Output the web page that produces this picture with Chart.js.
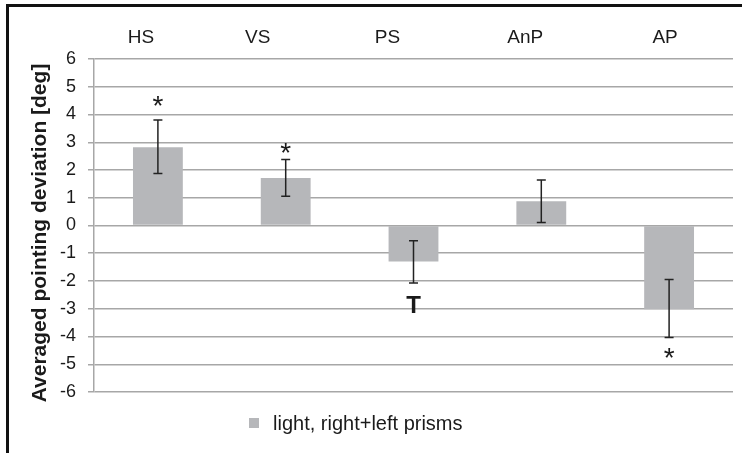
<!DOCTYPE html>
<html>
<head>
<meta charset="utf-8">
<script src="https://cdn.jsdelivr.net/npm/chart.js@4/dist/chart.umd.min.js"></script>
<style>
  html, body { margin: 0; padding: 0; background: #fff; }
  #wrap { width: 742px; height: 453px; position: relative; }
</style>
</head>
<body>
<div id="wrap"><canvas id="c" width="742" height="453"></canvas></div>
<script>
const categories = ['HS', 'VS', 'PS', 'AnP', 'AP'];
const seriesLabel = 'light, right+left prisms';
const yTitle = 'Averaged pointing deviation [deg]';
const values = [2.82, 1.71, -1.30, 0.87, -3.02];
const errLow = [1.87, 1.05, -2.07, 0.11, -4.04];
const errHigh = [3.80, 2.38, -0.55, 1.64, -1.95];
const marks = ['*', '*', 'T', '', '*'];
const markY = [4.5, 2.8, -2.85, null, -4.6];
const yTicks = [-6, -5, -4, -3, -2, -1, 0, 1, 2, 3, 4, 5, 6];

// styling
const FONT = "'Liberation Sans', Arial, sans-serif";
const BAR = '#b6b7ba';
const GRID = '#a7a7a7';
const TEXT = '#1a1a1a';
const catLabelShift = [-17, -28, -26, -16, -4];

const extras = {
  id: 'extras',
  afterDatasetsDraw(chart) {
    const ctx = chart.ctx;
    const x = chart.scales.x, y = chart.scales.y;
    ctx.save();
    // error bars
    ctx.strokeStyle = '#222';
    ctx.lineWidth = 1.5;
    categories.forEach((c, i) => {
      const cx = x.getPixelForValue(i);
      const y1 = y.getPixelForValue(errLow[i]);
      const y2 = y.getPixelForValue(errHigh[i]);
      ctx.beginPath();
      ctx.moveTo(cx, y1); ctx.lineTo(cx, y2);
      ctx.moveTo(cx - 4.5, y1); ctx.lineTo(cx + 4.5, y1);
      ctx.moveTo(cx - 4.5, y2); ctx.lineTo(cx + 4.5, y2);
      ctx.stroke();
    });
    // significance marks
    ctx.fillStyle = TEXT;
    ctx.textAlign = 'center';
    ctx.textBaseline = 'alphabetic';
    categories.forEach((c, i) => {
      if (!marks[i] || markY[i] === null) return;
      ctx.font = (marks[i] === 'T' ? 'bold 24px ' : '28px ') + FONT;
      const m = ctx.measureText(marks[i]);
      const asc = m.actualBoundingBoxAscent, desc = m.actualBoundingBoxDescent;
      const cy = y.getPixelForValue(markY[i]);
      ctx.fillText(marks[i], x.getPixelForValue(i), cy + (asc - desc) / 2);
    });
    ctx.restore();
  },
  afterDraw(chart) {
    const ctx = chart.ctx;
    const x = chart.scales.x;
    ctx.save();
    // frame (top and left)
    ctx.fillStyle = '#111';
    ctx.fillRect(6, 4, 742 - 6, 3);
    ctx.fillRect(6, 4, 3, 453);
    // category labels (top)
    ctx.fillStyle = TEXT;
    ctx.font = '19px ' + FONT;
    ctx.textAlign = 'center';
    ctx.textBaseline = 'alphabetic';
    categories.forEach((c, i) => {
      ctx.fillText(c, x.getPixelForValue(i) + catLabelShift[i], 43);
    });
    // y title
    ctx.save();
    ctx.translate(40, 233);
    ctx.rotate(-Math.PI / 2);
    ctx.font = 'bold 21px ' + FONT;
    ctx.textBaseline = 'middle';
    ctx.fillText(yTitle, 0, 0);
    ctx.restore();
    // legend
    const ds = chart.data.datasets[0];
    ctx.fillStyle = ds.backgroundColor;
    ctx.fillRect(249, 418, 10, 10);
    ctx.fillStyle = TEXT;
    ctx.font = '20px ' + FONT;
    ctx.textAlign = 'left';
    ctx.textBaseline = 'middle';
    ctx.fillText(ds.label, 273, 424);
    ctx.restore();
  }
};

new Chart(document.getElementById('c'), {
  type: 'bar',
  data: {
    labels: categories,
    datasets: [{
      label: seriesLabel,
      data: values,
      backgroundColor: BAR,
      borderWidth: 0,
      categoryPercentage: 1,
      barPercentage: 0.39
    }]
  },
  options: {
    responsive: false,
    animation: false,
    devicePixelRatio: 1,
    layout: { padding: { left: 20, right: 9, top: 10, bottom: 61 } },
    plugins: { legend: { display: false }, tooltip: { enabled: false } },
    scales: {
      x: {
        position: 'top',
        grid: { display: false, drawTicks: false, tickLength: 0 },
        border: { display: false },
        ticks: { display: false },
        afterFit(s) { s.height = 49; }
      },
      y: {
        min: -6, max: 6,
        afterBuildTicks(s) { s.ticks = yTicks.map(v => ({ value: v })); },
        grid: { color: GRID, lineWidth: 1.5, tickLength: 6 },
        border: { color: GRID, width: 1.5 },
        ticks: { font: { family: FONT, size: 18 }, color: TEXT, padding: 12 },
        afterFit(s) { s.width = 74; }
      }
    }
  },
  plugins: [extras]
});
</script>
</body>
</html>
